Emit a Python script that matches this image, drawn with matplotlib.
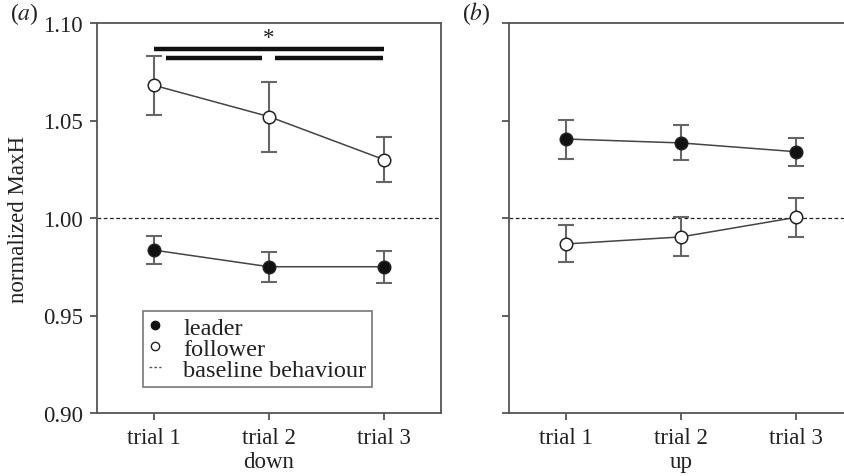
import matplotlib
matplotlib.use("Agg")
import matplotlib.pyplot as plt
from matplotlib.lines import Line2D

plt.rcParams['font.family'] = ['Liberation Serif', 'DejaVu Serif']
plt.rcParams['mathtext.fontset'] = 'stix'

trials = ["trial 1", "trial 2", "trial 3"]
trial_x = [1, 2, 3]

# panel (a): down
down_follower = [1.068, 1.052, 1.030]
down_follower_err = [0.015, 0.018, 0.0115]
down_leader = [0.9835, 0.975, 0.975]
down_leader_err = [0.0072, 0.0078, 0.0083]

# panel (b): up
up_leader = [1.0405, 1.0385, 1.034]
up_leader_err = [0.010, 0.009, 0.0072]
up_follower = [0.9867, 0.9903, 1.0003]
up_follower_err = [0.0095, 0.010, 0.0098]

# significance bars (x from, x to, y)
sig_bars = [(1.0, 3.0, 1.0869), (1.10, 1.935, 1.0821), (2.05, 2.99, 1.0821)]
sig_star = (2.0, 1.0925)

W, H = 845, 477
fig = plt.figure(figsize=(W / 100, H / 100), dpi=100)
ax_a = fig.add_axes([97 / W, (H - 414) / H, 344 / W, 390 / H])
ax_b = fig.add_axes([509 / W, (H - 414) / H, 344 / W, 390 / H])

spine_col = '#555555'
line_col = '#444444'
err_col = '#666666'
txt_col = '#222222'
fs = 16.5


def draw(ax, leader, leader_err, follower, follower_err):
    ax.axhline(1.0, color=txt_col, ls=(0, (3, 2)), lw=0.9, zorder=1)
    for y, err, face in [(leader, leader_err, '#111111'), (follower, follower_err, 'white')]:
        ax.plot(trial_x, y, color=line_col, lw=1.1, zorder=2)
        ax.errorbar(trial_x, y, yerr=err, color=err_col, ls='none', elinewidth=1.5,
                    capsize=6, capthick=1.5, zorder=3)
        ax.plot(trial_x, y, ls='none', marker='o', ms=9, mfc=face,
                mec='#222222', mew=1.1, zorder=4)
    ax.set_xlim(0.5, 3.5)
    ax.set_ylim(0.90, 1.10)
    ax.set_yticks([0.90, 0.95, 1.00, 1.05, 1.10])
    ax.set_xticks(trial_x)
    ax.set_xticklabels(trials, fontsize=fs, color=txt_col)
    for s in ax.spines.values():
        s.set_color(spine_col)
        s.set_linewidth(1.3)
    ax.tick_params(direction='out', length=5, width=1.3, color=spine_col, pad=5)


draw(ax_a, down_leader, down_leader_err, down_follower, down_follower_err)
draw(ax_b, up_leader, up_leader_err, up_follower, up_follower_err)

ax_a.set_yticklabels(["0.90", "0.95", "1.00", "1.05", "1.10"], fontsize=fs, color=txt_col)
ax_b.set_yticklabels([])
ax_a.set_ylabel("normalized MaxH", fontsize=fs, color=txt_col, labelpad=10)
ax_a.set_xlabel("down", fontsize=fs, color=txt_col, labelpad=2.5)
ax_b.set_xlabel("up", fontsize=fs, color=txt_col, labelpad=2.5)

for x0, x1, y in sig_bars:
    ax_a.plot([x0, x1], [y, y], color='#111111', lw=3.2, solid_capstyle='butt', zorder=4)
ax_a.text(sig_star[0], sig_star[1], "*", ha='center', va='center', fontsize=fs, color=txt_col)

handles = [
    Line2D([], [], ls='none', marker='o', ms=6, mfc='#111111', mec='#111111'),
    Line2D([], [], ls='none', marker='o', ms=6, mfc='white', mec='#222222', mew=1),
    Line2D([], [], ls=(0, (2, 1.5)), lw=1, color='#555555'),
]
leg = ax_a.legend(handles, ["leader", "follower", "baseline behaviour"],
                  loc='upper left', bbox_to_anchor=(0.134, 0.262), fontsize=17.5,
                  frameon=True, fancybox=False, edgecolor=spine_col,
                  handlelength=0.5, handletextpad=0.9, labelspacing=-0.05,
                  borderpad=0.25, borderaxespad=0)
leg.get_frame().set_linewidth(1.2)
for t in leg.get_texts():
    t.set_color(txt_col)

fig.text(10 / W, 1 - 14 / H, r"($\it{a}$)", fontsize=17, va='center', color=txt_col)
fig.text(462 / W, 1 - 14 / H, r"($\it{b}$)", fontsize=17, va='center', color=txt_col)

fig.savefig("out.png", dpi=100)
